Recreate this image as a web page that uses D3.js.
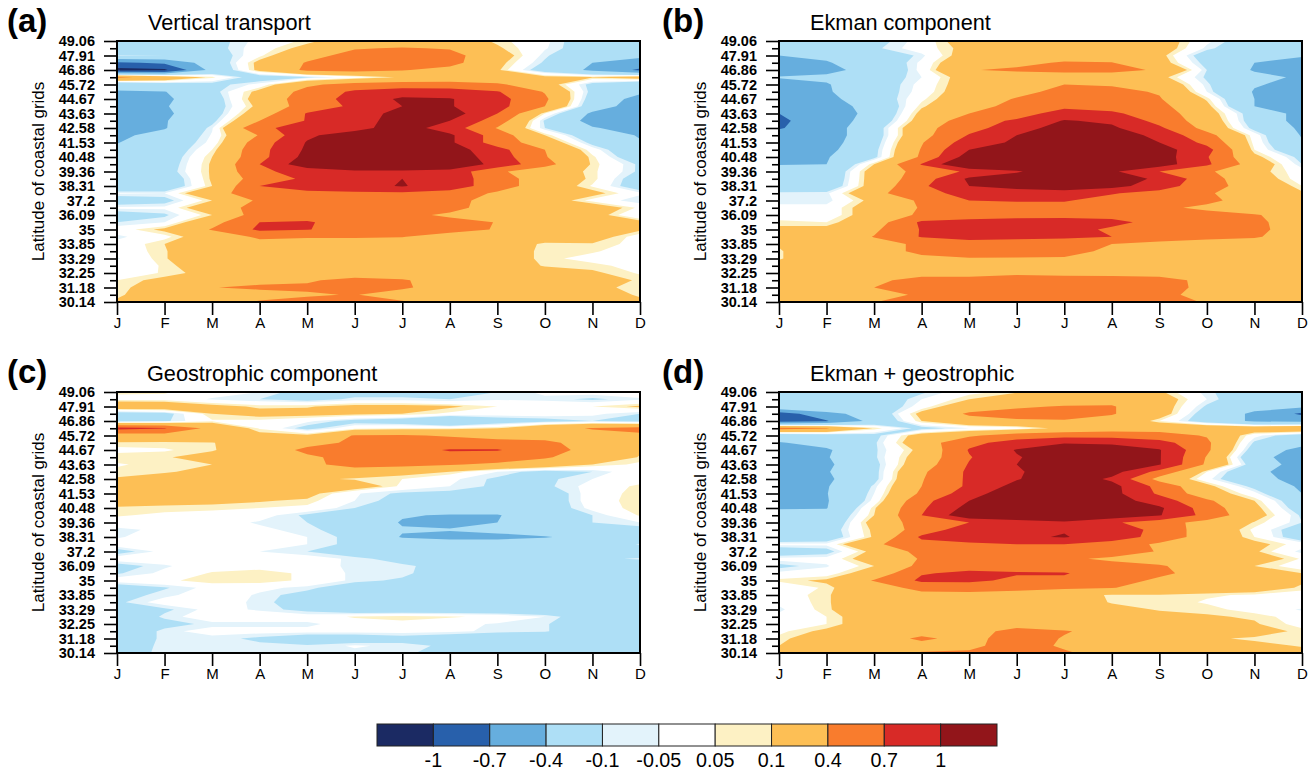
<!DOCTYPE html>
<html>
<head>
<meta charset="utf-8">
<script src="https://cdn.jsdelivr.net/npm/d3@7"></script>
<style>
  body { margin: 0; background: #fff; }
  svg { display: block; font-family: "Liberation Sans", sans-serif; }
</style>
</head>
<body>
<div id="chart"></div>
<script>
const months = ["J","F","M","A","M","J","J","A","S","O","N","D"];
// every second row is labelled, top to bottom
const latLabels = ["49.06","47.91","46.86","45.72","44.67","43.63","42.58","41.53","40.48","39.36",
  "38.31","37.2","36.09","35","33.85","33.29","32.25","31.18","30.14"];
const levels = [-1,-0.7,-0.4,-0.1,-0.05,0.05,0.1,0.4,0.7,1];
const colors = ["#1b2a63","#2860ab","#66aede","#aedff6","#e3f3fb","#ffffff","#fdf1c4","#fdbf55","#f97c2d","#d82a27","#92151a"];

// rows run from 49.06 (top) to 30.14 (bottom), columns J..D
const vertical = [
[-.3,-.3,-.15,-.02,.07,.2,.25,.2,.08,-.03,-.2,-.25],
[-.25,-.25,-.15,0,.15,.38,.42,.38,.12,-.04,-.2,-.25],
[-.09,-.1,-.2,.03,.3,.5,.55,.5,.2,-.08,-.3,-.35],
[-.75,-.65,-.25,.15,.42,.55,.55,.5,.15,-.12,-.4,-.5],
[-1.1,-1.05,-.3,.15,.45,.5,.42,.3,.12,-.2,-.45,-.75],
[.45,.3,.07,-.2,-.12,0,.12,.15,.18,.15,.11,.2],
[-.3,-.2,-.15,-.02,.35,.5,.55,.55,.45,.2,-.15,-.3],
[-.42,-.41,-.15,.15,.5,.75,.85,.82,.72,.38,-.15,-.35],
[-.5,-.45,-.2,.2,.55,.8,1.05,1.02,.8,.45,-.2,-.5],
[-.5,-.42,-.2,.15,.55,.75,1,1.02,.8,.4,-.25,-.55],
[-.5,-.45,-.2,.25,.72,.85,1.1,1.15,.7,.05,-.45,-.6],
[-.48,-.42,-.15,.4,.72,.9,1.1,1,.55,-.12,-.5,-.55],
[-.5,-.42,-.06,.65,.8,.9,1.15,.85,.38,-.1,-.38,-.5],
[-.46,-.3,-.04,.42,.95,1.15,1.2,1.05,.55,.1,-.25,-.42],
[-.41,-.25,-.02,.55,1.02,1.25,1.25,1.05,.55,.25,-.15,-.38],
[-.35,-.25,.05,.6,1.05,1.25,1.25,1.15,.8,.4,0,-.3],
[-.33,-.22,.1,.6,1.1,1.3,1.3,1.2,.85,.42,.07,-.25],
[-.33,-.2,.12,.7,1.2,1.3,1.3,1.25,.9,.5,.08,-.12],
[-.3,-.18,.12,.65,.8,.95,.95,.9,.45,.22,.07,-.12],
[-.3,-.25,.12,.55,.75,.95,1,.85,.55,.22,.08,-.2],
[-.3,-.25,.1,.7,.8,.9,1.02,.85,.55,.22,.04,-.2],
[-.04,-.05,.3,.55,.65,.65,.65,.6,.35,.2,.15,-.03],
[-.2,-.15,.1,.45,.6,.6,.6,.5,.28,.2,.02,-.1],
[-.03,-.03,.25,.5,.6,.6,.62,.5,.25,.22,.22,.03],
[-.18,-.12,.1,.55,.6,.55,.48,.35,.28,.22,.18,-.06],
[-.1,-.05,.3,.7,.72,.6,.55,.5,.39,.3,.25,.15],
[0,.13,.42,.75,.71,.6,.55,.5,.38,.3,.25,.12],
[-.07,.02,.22,.45,.42,.42,.41,.28,.25,.2,.18,0],
[-.02,.1,.25,.3,.3,.3,.28,.25,.2,.08,.09,.02],
[-.02,.09,.25,.3,.3,.3,.25,.22,.2,.07,.06,0],
[-.06,.09,.25,.3,.3,.3,.25,.22,.2,.07,.02,-.01],
[-.02,.06,.22,.3,.3,.3,.25,.22,.2,.09,.07,.02],
[-.01,.06,.15,.3,.3,.3,.28,.25,.22,.18,.12,.04],
[.05,.14,.25,.35,.38,.45,.42,.3,.25,.2,.15,.09],
[.08,.15,.395,.43,.43,.5,.43,.3,.25,.2,.12,.08],
[.08,.2,.3,.33,.38,.41,.3,.25,.22,.2,.15,.09],
[.12,.22,.3,.42,.45,.45,.42,.3,.25,.2,.17,.12]
];

const ekman = [
[-.25,-.25,-.15,-.01,.2,.25,.41,.25,.2,-.03,-.2,-.25],
[-.25,-.25,-.12,0,.15,.25,.3,.25,.2,-.07,-.25,-.3],
[-.4,-.35,-.25,-.07,.2,.25,.3,.28,.15,-.2,-.32,-.38],
[-.45,-.42,-.25,-.03,.3,.35,.42,.41,.18,-.15,-.4,-.48],
[-.5,-.47,-.3,-.02,.39,.43,.45,.45,.38,-.1,-.43,-.48],
[-.39,-.35,-.2,-.05,.2,.28,.3,.3,.15,-.12,-.3,-.45],
[-.47,-.42,-.2,-.02,.2,.28,.4,.38,.28,-.08,-.38,-.47],
[-.5,-.43,-.2,-.01,.22,.33,.47,.46,.38,-.05,-.42,-.5],
[-.55,-.48,-.22,.03,.25,.42,.5,.48,.42,.08,-.4,-.55],
[-.6,-.52,-.3,.08,.3,.48,.62,.58,.48,.15,-.4,-.55],
[-.7,-.55,-.32,.15,.4,.55,.85,.75,.55,.2,-.2,-.5],
[-.75,-.55,-.28,.2,.55,.75,1.02,.95,.6,.25,-.2,-.5],
[-.72,-.55,-.2,.3,.6,.85,1.15,1.05,.75,.3,-.15,-.45],
[-.6,-.55,-.2,.3,.72,1,1.25,1.2,.9,.5,0,-.42],
[-.55,-.52,-.18,.38,.85,1.05,1.3,1.25,1,.62,.02,-.38],
[-.5,-.48,-.15,.42,1,1.2,1.35,1.3,1.12,.8,.05,-.3],
[-.45,-.42,-.14,.45,1.15,1.3,1.35,1.3,1.15,.72,.15,-.15],
[-.41,-.4,.1,.72,1.4,1.25,1.3,1.28,1.15,.75,.25,-.1],
[-.3,-.3,.2,.5,.75,.97,1.2,1.05,.7,.45,.15,0],
[-.3,-.28,.2,.55,1.05,1.15,1.25,1.15,.95,.52,.2,0],
[-.28,-.25,.2,.65,1,1.1,1.15,1.1,.85,.5,.28,.05],
[-.07,-.07,.3,.65,.75,.85,.9,.72,.6,.42,.3,.12],
[-.08,-.08,.15,.45,.7,.72,.72,.6,.55,.45,.3,.2],
[-.02,-.02,.2,.42,.55,.6,.6,.55,.45,.35,.25,.2],
[-.03,-.02,.2,.45,.55,.6,.6,.6,.55,.48,.42,.28],
[.08,.05,.25,.75,.8,.82,.85,.78,.6,.5,.45,.28],
[.12,.15,.35,.72,.8,.85,.82,.65,.55,.5,.45,.3],
[.15,.2,.41,.72,.78,.75,.75,.7,.5,.45,.42,.3],
[.11,.2,.3,.45,.6,.6,.55,.4,.35,.32,.3,.28],
[.09,.2,.3,.45,.55,.52,.48,.35,.3,.28,.28,.27],
[.09,.2,.3,.35,.38,.38,.38,.3,.28,.27,.27,.26],
[.15,.22,.28,.3,.3,.3,.3,.28,.27,.25,.25,.25],
[.18,.22,.3,.32,.35,.36,.35,.35,.33,.28,.25,.25],
[.2,.25,.35,.48,.45,.5,.48,.47,.47,.35,.28,.25],
[.2,.25,.4,.5,.5,.52,.52,.52,.48,.35,.28,.25],
[.2,.25,.35,.42,.41,.5,.55,.52,.48,.3,.28,.25],
[.2,.25,.39,.55,.52,.52,.55,.55,.5,.38,.3,.25]
];

const geostrophic = [
[.06,.06,0,-.05,-.15,-.15,-.15,-.15,-.1,-.03,-.01,0],
[.03,.02,-.06,-.1,-.15,-.08,-.08,-.1,-.06,-.07,-.12,-.06],
[.25,.25,.15,.08,.09,.15,.15,.12,.05,.02,.05,.12],
[-.2,-.15,.1,.15,.15,.13,.1,.03,0,0,-.03,-.1],
[-.15,-.12,.04,.03,-.03,-.15,-.2,-.38,-.2,-.15,-.1,-.15],
[.8,.72,.3,.04,-.15,.02,.05,.05,.1,.3,.42,.48],
[.25,.28,.3,.15,.13,.42,.42,.38,.3,.3,.3,.35],
[.09,.08,.09,.25,.3,.45,.5,.5,.5,.45,.3,.15],
[.02,.04,.09,.2,.47,.55,.6,.72,.72,.52,.3,.12],
[.09,.09,.15,.25,.35,.5,.6,.6,.55,.43,.25,.09],
[.04,.08,.1,.2,.3,.55,.5,.42,.35,.25,.1,.03],
[.07,.09,.13,.2,.25,.2,.15,.1,-.05,-.15,-.1,.02],
[.11,.15,.2,.2,.12,.09,.05,-.03,-.12,-.12,-.05,0],
[.2,.22,.25,.25,.2,.2,.03,-.05,-.12,-.12,-.02,.07],
[.25,.25,.25,.25,.15,-.04,-.12,-.13,-.14,-.2,0,.08],
[.15,.14,.13,.11,.08,-.05,-.15,-.2,-.2,-.2,0,.09],
[.09,.08,.07,.05,.03,-.1,-.2,-.2,-.25,-.2,-.02,.09],
[.06,.03,.01,-.01,-.12,-.2,-.38,-.42,-.42,-.2,-.1,.06],
[0,0,-.01,-.06,-.1,-.2,-.42,-.45,-.4,-.2,-.1,-.05],
[-.07,-.03,0,-.03,-.08,-.15,-.38,-.39,-.35,-.25,-.2,-.15],
[-.06,0,.01,0,-.05,-.13,-.42,-.45,-.45,-.42,-.3,-.25],
[0,0,.01,0,-.05,-.13,-.25,-.3,-.3,-.25,-.2,-.09],
[-.15,-.02,0,-.05,-.1,-.2,-.2,-.25,-.25,-.2,-.15,-.2],
[0,0,.01,0,0,-.07,-.15,-.2,-.25,-.2,-.12,-.09],
[-.15,-.06,0,.01,.02,-.08,-.08,-.15,-.2,-.2,-.2,-.2],
[-.11,-.03,.06,.09,.03,-.07,-.07,-.2,-.2,-.2,-.2,-.2],
[0,.03,.09,.09,.03,-.07,-.12,-.2,-.25,-.25,-.25,-.25],
[-.2,-.11,-.02,-.03,-.07,-.2,-.25,-.25,-.25,-.25,-.25,-.25],
[-.15,-.07,0,-.06,-.15,-.22,-.25,-.25,-.25,-.25,-.25,-.25],
[-.12,-.01,0,-.07,-.17,-.25,-.25,-.25,-.25,-.25,-.25,-.25],
[-.25,-.12,-.02,-.06,-.14,-.25,-.25,-.25,-.25,-.25,-.25,-.25],
[-.25,-.08,0,0,0,.06,.09,.06,.03,-.05,-.2,-.25],
[-.25,-.15,-.07,-.07,-.07,0,.01,-.02,-.06,-.09,-.2,-.25],
[-.25,-.07,-.02,-.02,-.02,-.02,-.02,-.03,-.07,-.09,-.2,-.25],
[-.25,-.07,-.07,-.12,-.2,-.2,-.15,-.2,-.25,-.25,-.25,-.25],
[-.2,-.07,-.07,-.08,-.09,-.04,-.07,-.12,-.25,-.25,-.25,-.25],
[-.15,-.08,-.08,-.08,-.08,-.07,-.08,-.15,-.2,-.2,-.2,-.2]
];

const combined = [
[-.25,-.25,-.22,-.12,.02,.08,.12,.15,.12,-.08,-.2,-.25],
[-.25,-.25,-.22,-.05,.1,.25,.3,.3,.2,-.05,-.25,-.28],
[-.12,-.1,-.25,0,.25,.38,.41,.42,.2,-.12,-.3,-.35],
[-.85,-.5,-.25,.15,.44,.45,.5,.42,.2,-.2,-.45,-.75],
[-.85,-.72,-.3,.1,.3,.38,.38,.3,.05,-.2,-.45,-.5],
[.5,.42,.09,-.15,-.05,0,.15,.25,.3,.3,.28,.35],
[-.25,-.2,-.15,.2,.35,.55,.6,.58,.5,.38,-.02,-.2],
[-.42,-.3,-.12,.25,.62,.82,.98,.95,.82,.45,-.12,-.3],
[-.5,-.44,-.12,.15,.72,1.02,1.15,1.15,1.02,.45,-.2,-.5],
[-.5,-.42,-.12,.2,.68,.98,1.15,1.12,1.02,.38,-.3,-.55],
[-.55,-.45,-.15,.25,.72,1,1.2,1.15,1.02,.35,-.2,-.55],
[-.55,-.42,-.15,.35,.75,.95,1.25,1.12,.6,.05,-.3,-.6],
[-.55,-.45,-.15,.38,.75,.98,1.2,.95,.3,-.02,-.3,-.5],
[-.5,-.42,-.08,.4,.75,1.1,1.3,1.1,.6,.15,-.15,-.45],
[-.48,-.41,-.05,.45,.85,1.25,1.3,1.1,.65,.22,-.02,-.4],
[-.45,-.42,-.02,.6,1,1.3,1.3,1.15,.85,.45,.1,-.25],
[-.42,-.41,.08,.65,1.1,1.3,1.3,1.2,1.05,.55,.15,-.2],
[-.3,-.3,.1,.7,1.23,1.3,1.3,1.2,1.02,.6,.18,-.12],
[-.28,-.28,.18,.55,.7,.85,.95,.75,.52,.3,.09,-.1],
[-.28,-.2,.13,.55,.85,.9,.98,.9,.6,.25,.03,-.2],
[-.27,-.22,.12,.75,.85,.95,1.02,.85,.6,.25,.05,-.2],
[-.02,-.03,.35,.6,.65,.7,.7,.58,.35,.25,.15,0],
[-.22,-.15,.15,.5,.65,.65,.62,.55,.38,.25,.12,-.08],
[-.02,-.02,.2,.42,.55,.6,.45,.35,.3,.22,.2,.04],
[-.13,-.06,.1,.48,.6,.6,.55,.5,.42,.3,.1,0],
[-.03,0,.2,.68,.75,.72,.72,.55,.45,.3,.2,.1],
[.07,.12,.42,.75,.75,.65,.65,.52,.35,.3,.25,.12],
[-.05,.07,.25,.5,.55,.5,.45,.41,.3,.25,.2,.08],
[-.01,.09,.2,.3,.3,.25,.15,.09,.09,.06,.04,0],
[-.03,.09,.2,.3,.3,.25,.2,.09,.09,.04,.01,.01],
[-.07,.09,.18,.3,.3,.25,.22,.15,.09,.08,.01,-.06],
[-.02,.05,.2,.28,.3,.25,.22,.2,.15,.11,.09,0],
[-.01,.05,.2,.28,.3,.3,.25,.25,.2,.15,.11,.02],
[.03,.13,.25,.28,.3,.48,.42,.3,.28,.22,.17,.07],
[.07,.2,.25,.45,.3,.55,.38,.3,.25,.12,.08,.07],
[.1,.22,.28,.3,.35,.5,.37,.3,.25,.2,.14,.09],
[.15,.22,.3,.42,.43,.5,.43,.3,.25,.2,.17,.15]
];

const panels = [
  {tag: "(a)", title: "Vertical transport",   values: vertical,    left: 117, top: 41,  titleX: 148, tagX: 7},
  {tag: "(b)", title: "Ekman component",      values: ekman,       left: 779, top: 41,  titleX: 810, tagX: 662},
  {tag: "(c)", title: "Geostrophic component", values: geostrophic, left: 117, top: 392, titleX: 147, tagX: 7},
  {tag: "(d)", title: "Ekman + geostrophic",  values: combined,    left: 779, top: 392, titleX: 810, tagX: 662}
];

const width = 1315, height = 773;
const plotW = 523, plotH = 261;
const nx = months.length, ny = vertical.length;

const svg = d3.select("#chart").append("svg")
    .attr("width", width)
    .attr("height", height);

const x = d3.scaleLinear().domain([0, nx - 1]).range([0, plotW]);
const y = d3.scaleLinear().domain([0, ny - 1]).range([0, plotH]);

// d3.contours puts value i at grid coordinate i + 0.5
const path = d3.geoPath(d3.geoTransform({
  point(px, py) { this.stream.point(x(px - 0.5), y(py - 0.5)); }
}));
const contours = d3.contours().size([nx, ny]).thresholds(levels);

panels.forEach((p, pi) => {
  const g = svg.append("g").attr("transform", `translate(${p.left},${p.top})`);

  svg.append("clipPath").attr("id", "clip" + pi)
    .append("rect").attr("width", plotW).attr("height", plotH);

  const fill = g.append("g").attr("clip-path", `url(#clip${pi})`);
  fill.append("rect").attr("width", plotW).attr("height", plotH).attr("fill", colors[0]);
  fill.selectAll("path")
    .data(contours(p.values.flat()))
    .join("path")
      .attr("d", path)
      .attr("fill", (d, i) => colors[i + 1]);

  // minor ticks first so the labelled ones sit on top
  g.append("g")
      .call(d3.axisLeft(y).tickValues(d3.range(1, ny, 2)).tickSize(7).tickFormat(""))
      .call(a => a.select(".domain").remove())
      .call(a => a.selectAll("line").attr("stroke-width", 1.6));

  g.append("g")
      .call(d3.axisLeft(y).tickValues(d3.range(0, ny, 2)).tickSize(13).tickPadding(9)
        .tickFormat(d => latLabels[d / 2]))
      .call(a => a.select(".domain").remove())
      .call(a => a.selectAll("line").attr("stroke-width", 1.6))
      .call(a => a.selectAll("text")
        .attr("font-size", 14.5).attr("font-weight", "bold").attr("font-family", "Liberation Sans").attr("fill", "#000"));

  g.append("g")
      .attr("transform", `translate(0,${plotH})`)
      .call(d3.axisBottom(x).tickValues(d3.range(nx)).tickSize(13).tickPadding(2)
        .tickFormat(d => months[d]))
      .call(a => a.select(".domain").remove())
      .call(a => a.selectAll("line").attr("stroke-width", 1.6))
      .call(a => a.selectAll("text")
        .attr("font-size", 15).attr("font-family", "Liberation Sans").attr("fill", "#000"));

  g.append("rect")
      .attr("width", plotW).attr("height", plotH)
      .attr("fill", "none").attr("stroke", "#000").attr("stroke-width", 2);

  g.append("text")
      .attr("transform", `translate(-73,${plotH / 2}) rotate(-90)`)
      .attr("text-anchor", "middle")
      .attr("font-size", 17)
      .text("Latitude of coastal grids");

  svg.append("text")
      .attr("x", p.tagX).attr("y", p.top - 9)
      .attr("font-size", 33).attr("font-weight", "bold")
      .text(p.tag);

  svg.append("text")
      .attr("x", p.titleX).attr("y", p.top - 11)
      .attr("font-size", 21.7)
      .text(p.title);
});

// colour bar
const legendX = d3.scaleLinear().domain([0, colors.length]).range([377, 997]);
const legend = svg.append("g").attr("transform", "translate(0,724)");

legend.selectAll("rect")
  .data(colors)
  .join("rect")
    .attr("x", (d, i) => legendX(i))
    .attr("width", (d, i) => legendX(i + 1) - legendX(i))
    .attr("height", 22)
    .attr("fill", d => d)
    .attr("stroke", "#222")
    .attr("stroke-width", 1);

// the bar labels are tall and a little narrow in the original
legend.selectAll("text")
  .data(levels)
  .join("text")
    .attr("transform", (d, i) => `translate(${legendX(i + 1)},43) scale(0.94,1)`)
    .attr("text-anchor", "middle")
    .attr("font-size", 21)
    .text(d => d);
</script>
</body>
</html>
